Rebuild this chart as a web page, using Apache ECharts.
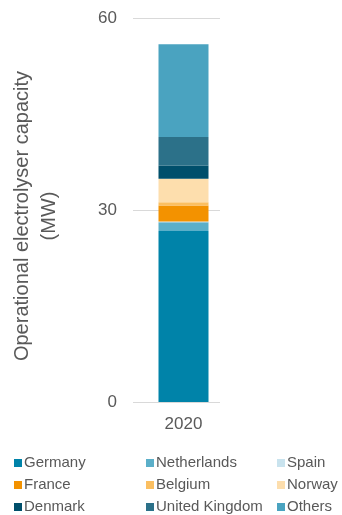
<!DOCTYPE html>
<html>
<head>
<meta charset="utf-8">
<script src="https://cdn.jsdelivr.net/npm/echarts@6/dist/echarts.min.js"></script>
<style>
  html, body { margin: 0; padding: 0; background: #fff; }
  #chart { width: 342px; height: 515px; }
</style>
</head>
<body>
<div id="chart"></div>
<script>
// data (MW)
const years = ['2020'];
const countries = ['Germany', 'Netherlands', 'Spain', 'France', 'Belgium', 'Norway', 'Denmark', 'United Kingdom', 'Others'];
const capacity = [26.7, 1.4, 0.1, 2.5, 0.5, 3.7, 2.0, 4.5, 14.5];
const colors = ['#0083a9', '#5bafc9', '#c9e3ee', '#f39200', '#fbbf61', '#fddead', '#004f6b', '#2c7189', '#4aa3c0'];
const yTicks = [0, 30, 60];

const chart = echarts.init(document.getElementById('chart'));

const txt = '#595959';
const font = 'Liberation Sans, Arial, sans-serif';

// legend laid out row by row, three columns
const legendX = [14, 146, 277];
const legendY = [463, 485, 507];
const legends = countries.map((c, i) => ({
  data: [c],
  left: legendX[i % 3],
  top: legendY[Math.floor(i / 3)] - 8,
  padding: 0,
  itemWidth: 8,
  itemHeight: 8,
  icon: 'rect',
  textStyle: { color: txt, fontSize: 15, fontFamily: font, lineHeight: 16, padding: [0, 0, 0, -3] },
}));

chart.setOption({
  animation: false,
  color: colors,
  grid: [
    // grid lines + y labels
    { left: 133, right: 122, top: 18, bottom: 113 },
    // the bar itself sits a little right of the grid lines
    { left: 140, right: 115, top: 18, bottom: 113 },
  ],
  legend: legends,
  xAxis: [
    { type: 'category', data: years, gridIndex: 0, show: false },
    {
      type: 'category',
      data: years,
      gridIndex: 1,
      axisLine: { show: false },
      axisTick: { show: false },
      axisLabel: { color: txt, fontSize: 17, fontFamily: font, margin: 14 },
    },
  ],
  yAxis: [
    {
      type: 'value',
      gridIndex: 0,
      min: yTicks[0],
      max: yTicks[yTicks.length - 1],
      interval: 30,
      name: 'Operational electrolyser capacity\n(MW)',
      nameLocation: 'middle',
      nameGap: 70,
      nameTextStyle: { color: txt, fontSize: 20, fontFamily: font, lineHeight: 27, padding: [0, 0, 0, -12] },
      axisLabel: { color: txt, fontSize: 17, fontFamily: font, margin: 16 },
      splitLine: { lineStyle: { color: '#d9d9d9' } },
    },
    {
      type: 'value',
      gridIndex: 1,
      min: yTicks[0],
      max: yTicks[yTicks.length - 1],
      show: false,
      splitLine: { show: false },
    },
  ],
  series: countries.map((c, i) => ({
    name: c,
    type: 'bar',
    stack: 'total',
    xAxisIndex: 1,
    yAxisIndex: 1,
    barWidth: 50,
    data: [capacity[i]],
  })),
});
</script>
</body>
</html>
